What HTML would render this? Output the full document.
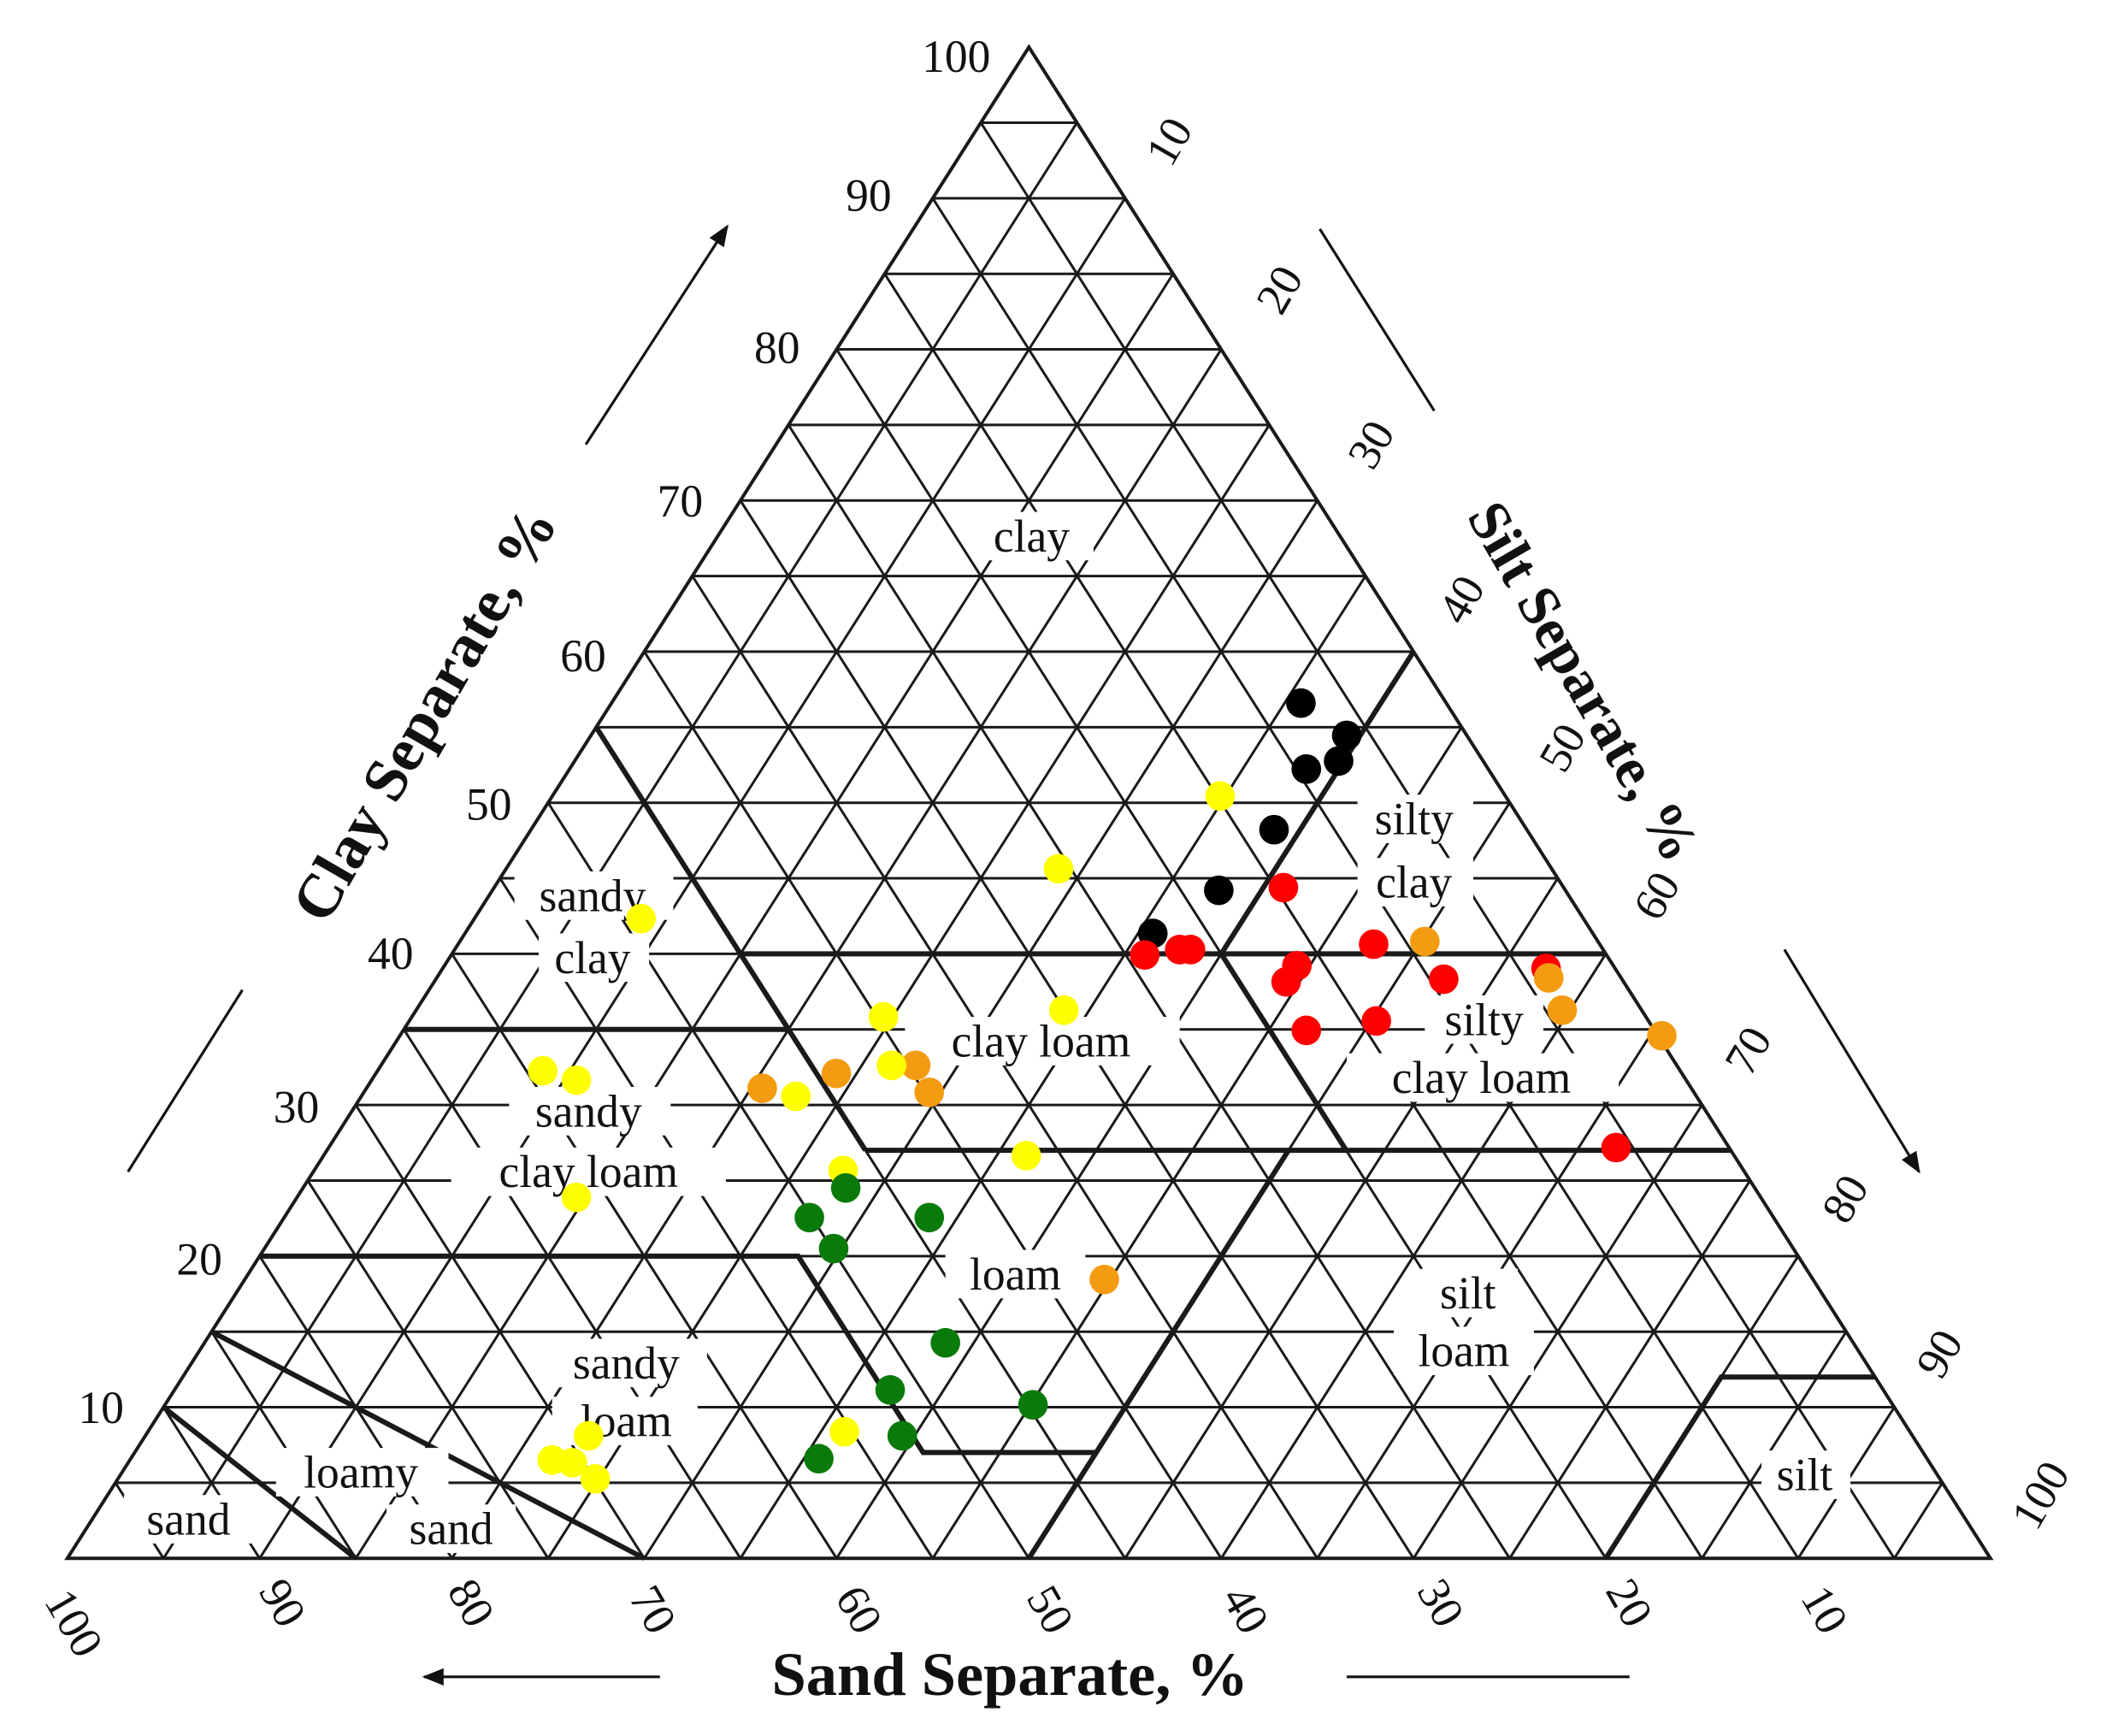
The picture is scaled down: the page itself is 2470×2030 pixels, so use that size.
<!DOCTYPE html>
<html><head><meta charset="utf-8"><style>
html,body{margin:0;padding:0;background:#fff;}
svg{display:block;}
text{font-family:"Liberation Serif",serif;fill:#111;}
.lb{font-size:34px;text-anchor:middle;dominant-baseline:central;}
.nm{font-size:34px;text-anchor:middle;dominant-baseline:central;}
.ti{font-size:46px;font-weight:bold;text-anchor:middle;dominant-baseline:central;}
</style></head><body>
<svg width="2470" height="2030" viewBox="0 0 1568.25 1288.9" preserveAspectRatio="none" xmlns="http://www.w3.org/2000/svg">
<defs><marker id="ah" viewBox="0 0 10 10" refX="9" refY="5" markerWidth="8" markerHeight="8" orient="auto-start-reverse"><path d="M0,1 L10,5 L0,9 z" fill="#111"/></marker></defs>
<g transform="matrix(14.28,0,7.14,-11.22,50,1157)" fill="none" stroke="#1a1a1a">
<path vector-effect="non-scaling-stroke" stroke-width="3" d="M0,5H95M0,10H90M0,15H85M0,20H80M0,25H75M0,30H70M0,35H65M0,40H60M0,45H55M0,50H50M0,55H45M0,60H40M0,65H35M0,70H30M0,75H25M0,80H20M0,85H15M0,90H10M0,95H5"/>
<path vector-effect="non-scaling-stroke" stroke-width="3" d="M5,0V95M10,0V90M15,0V85M20,0V80M25,0V75M30,0V70M35,0V65M40,0V60M45,0V55M50,0V50M55,0V45M60,0V40M65,0V35M70,0V30M75,0V25M80,0V20M85,0V15M90,0V10M95,0V5"/>
<path vector-effect="non-scaling-stroke" stroke-width="3" d="M5,0L0,5M10,0L0,10M15,0L0,15M20,0L0,20M25,0L0,25M30,0L0,30M35,0L0,35M40,0L0,40M45,0L0,45M50,0L0,50M55,0L0,55M60,0L0,60M65,0L0,65M70,0L0,70M75,0L0,75M80,0L0,80M85,0L0,85M90,0L0,90M95,0L0,95"/>
<path vector-effect="non-scaling-stroke" stroke-width="4" d="M0,0H100L0,100Z"/>
<path vector-effect="non-scaling-stroke" stroke-width="6" d="M0,55L28,27M15,40H60M40,40V60M0,35H20M40,40L53,27M28,27H73M0,20H28L41,7H50M50,0V27M80,0V12H88M0,15L30,0M0,10L15,0"/>
</g>
<g fill="#fff">
<rect x="722" y="380" width="90" height="36"/>
<rect x="1008" y="590" width="86" height="36"/><rect x="1008" y="637" width="86" height="36"/>
<rect x="382" y="647" width="118" height="36"/><rect x="400" y="693" width="82" height="36"/>
<rect x="672" y="755" width="204" height="36"/>
<rect x="1058" y="739" width="88" height="36"/><rect x="1000" y="782" width="202" height="36"/>
<rect x="378" y="807" width="120" height="36"/><rect x="335" y="852" width="204" height="36"/>
<rect x="702" y="928" width="104" height="36"/>
<rect x="1055" y="942" width="72" height="36"/><rect x="1035" y="985" width="104" height="36"/>
<rect x="405" y="994" width="120" height="36"/><rect x="410" y="1037" width="108" height="36"/>
<rect x="205" y="1075" width="128" height="36"/><rect x="92" y="1110" width="96" height="36"/><rect x="287" y="1117" width="96" height="36"/>
<rect x="1308" y="1077" width="66" height="36"/>
</g>
<g>
<text class="lb" x="766" y="398">clay</text>
<text class="lb" x="1050" y="608">silty</text><text class="lb" x="1050" y="655">clay</text>
<text class="lb" x="440" y="665">sandy</text><text class="lb" x="440" y="711">clay</text>
<text class="lb" x="773" y="773">clay  loam</text>
<text class="lb" x="1102" y="757">silty</text><text class="lb" x="1100" y="800">clay loam</text>
<text class="lb" x="437" y="825">sandy</text><text class="lb" x="437" y="870">clay loam</text>
<text class="lb" x="754" y="946">loam</text>
<text class="lb" x="1090" y="960">silt</text><text class="lb" x="1087" y="1003">loam</text>
<text class="lb" x="465" y="1012">sandy</text><text class="lb" x="465" y="1055">loam</text>
<text class="lb" x="268" y="1093">loamy</text><text class="lb" x="140" y="1128">sand</text><text class="lb" x="335" y="1135">sand</text>
<text class="lb" x="1340" y="1095">silt</text>
</g>
<g fill="#000"><circle cx="966" cy="522" r="11"/><circle cx="1000" cy="546" r="11"/><circle cx="994" cy="565" r="11"/><circle cx="970" cy="571" r="11"/><circle cx="946" cy="616" r="11"/><circle cx="905" cy="661" r="11"/><circle cx="856" cy="693" r="11"/></g>
<g fill="#ff0000"><circle cx="850" cy="709" r="11"/><circle cx="876" cy="705" r="11"/><circle cx="884" cy="705" r="11"/><circle cx="953" cy="659" r="11"/><circle cx="963" cy="717" r="11"/><circle cx="955" cy="729" r="11"/><circle cx="1020" cy="701" r="11"/><circle cx="1072" cy="727" r="11"/><circle cx="1148" cy="719" r="11"/><circle cx="970" cy="765" r="11"/><circle cx="1022" cy="758" r="11"/><circle cx="1200" cy="852" r="11"/></g>
<g fill="#f39c12"><circle cx="566" cy="808" r="11"/><circle cx="621" cy="797" r="11"/><circle cx="680" cy="791" r="11"/><circle cx="690" cy="811" r="11"/><circle cx="820" cy="950" r="11"/><circle cx="1058" cy="699" r="11"/><circle cx="1150" cy="726" r="11"/><circle cx="1160" cy="750" r="11"/><circle cx="1234" cy="769" r="11"/></g>
<g fill="#ffff00"><circle cx="906" cy="591" r="11"/><circle cx="786" cy="645" r="11"/><circle cx="476" cy="682" r="11"/><circle cx="656" cy="755" r="11"/><circle cx="790" cy="750" r="11"/><circle cx="403" cy="795" r="11"/><circle cx="428" cy="802" r="11"/><circle cx="662" cy="791" r="11"/><circle cx="591" cy="814" r="11"/><circle cx="626" cy="869" r="11"/><circle cx="428" cy="889" r="11"/><circle cx="762" cy="858" r="11"/><circle cx="627" cy="1063" r="11"/><circle cx="437" cy="1066" r="11"/><circle cx="410" cy="1084" r="11"/><circle cx="425" cy="1086" r="11"/><circle cx="442" cy="1098" r="11"/></g>
<g fill="#0a7a0a"><circle cx="628" cy="882" r="11"/><circle cx="601" cy="904" r="11"/><circle cx="690" cy="904" r="11"/><circle cx="619" cy="927" r="11"/><circle cx="702" cy="997" r="11"/><circle cx="661" cy="1032" r="11"/><circle cx="767" cy="1043" r="11"/><circle cx="670" cy="1066" r="11"/><circle cx="608" cy="1083" r="11"/></g>
<g>
<text class="nm" x="710" y="42">100</text><text class="nm" x="645" y="145">90</text><text class="nm" x="577" y="258">80</text><text class="nm" x="505" y="372">70</text><text class="nm" x="433" y="487">60</text><text class="nm" x="363" y="597">50</text><text class="nm" x="290" y="708">40</text><text class="nm" x="220" y="822">30</text><text class="nm" x="148" y="935">20</text><text class="nm" x="75" y="1045">10</text>
</g>
<text class="nm" transform="translate(868,105) rotate(-60)">10</text>
<text class="nm" transform="translate(950,215) rotate(-60)">20</text>
<text class="nm" transform="translate(1018,330) rotate(-60)">30</text>
<text class="nm" transform="translate(1085,445) rotate(-60)">40</text>
<text class="nm" transform="translate(1160,555) rotate(-60)">50</text>
<text class="nm" transform="translate(1230,665) rotate(-60)">60</text>
<text class="nm" transform="translate(1298,780) rotate(-60)">70</text>
<text class="nm" transform="translate(1370,890) rotate(-60)">80</text>
<text class="nm" transform="translate(1440,1005) rotate(-60)">90</text>
<text class="nm" transform="translate(1515,1110) rotate(-60)">100</text>
<text class="nm" transform="translate(55,1205) rotate(60)">100</text>
<text class="nm" transform="translate(210,1190) rotate(60)">90</text>
<text class="nm" transform="translate(350,1190) rotate(60)">80</text>
<text class="nm" transform="translate(485,1195) rotate(60)">70</text>
<text class="nm" transform="translate(638,1195) rotate(60)">60</text>
<text class="nm" transform="translate(780,1195) rotate(60)">50</text>
<text class="nm" transform="translate(925,1195) rotate(60)">40</text>
<text class="nm" transform="translate(1070,1190) rotate(60)">30</text>
<text class="nm" transform="translate(1210,1190) rotate(60)">20</text>
<text class="nm" transform="translate(1355,1195) rotate(60)">10</text>
<text class="ti" transform="translate(315,530) rotate(-60)">Clay Separate, %</text>
<text class="ti" style="font-size:43px" transform="translate(1176,506) rotate(60)">Silt Separate, %</text>
<text class="ti" x="750" y="1243">Sand Separate, %</text>
<g stroke="#111" stroke-width="2" fill="none">
<line x1="435" y1="330" x2="540" y2="168" marker-end="url(#ah)"/>
<line x1="95" y1="870" x2="180" y2="735"/>
<line x1="980" y1="170" x2="1065" y2="305"/>
<line x1="1325" y1="705" x2="1425" y2="870" marker-end="url(#ah)"/>
<line x1="490" y1="1245" x2="315" y2="1245" marker-end="url(#ah)"/>
<line x1="1000" y1="1245" x2="1210" y2="1245"/>
</g>
</svg>
</body></html>
